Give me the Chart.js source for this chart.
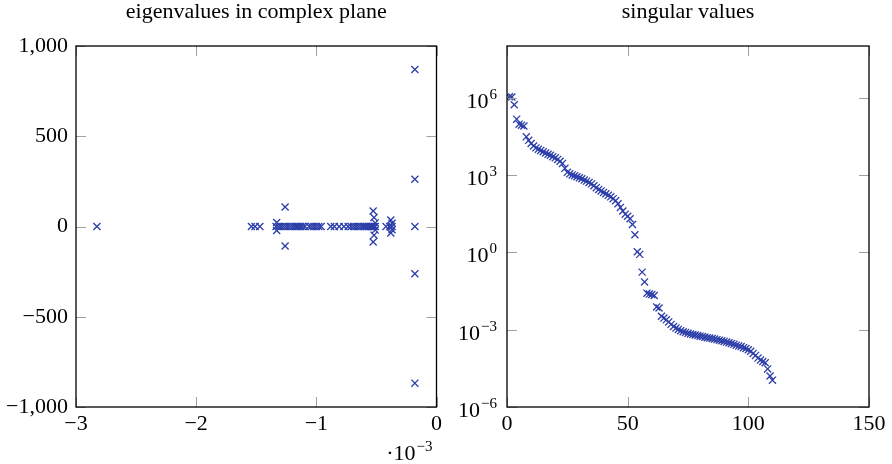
<!DOCTYPE html>
<html>
<head>
<meta charset="utf-8">
<script src="https://cdn.jsdelivr.net/npm/chart.js@4.4.0/dist/chart.umd.min.js"></script>
<style>
  html, body { margin: 0; padding: 0; background: #fff; }
  .box { position: absolute; top: 0; width: 446px; height: 464px; }
</style>
</head>
<body>
<div class="box" style="left:0"><canvas id="eigChart"></canvas></div>
<div class="box" style="left:446px"><canvas id="svdChart"></canvas></div>
<script>
// eigenvalues: real part (in units of 1e-3, as on the axis) and imaginary part
const eigReal = [
  -2.826, -1.54, -1.51, -1.47,
  -1.335, -1.315, -1.295, -1.275, -1.255, -1.235, -1.215, -1.195, -1.175, -1.16,
  -1.145, -1.13, -1.115, -1.095, -1.06, -1.04, -1.02, -1.0, -0.98, -0.96,
  -0.88, -0.85, -0.81, -0.77,
  -0.735, -0.71, -0.69, -0.67, -0.65, -0.63, -0.61, -0.595, -0.58, -0.565,
  -0.55, -0.54, -0.53, -0.52, -0.51,
  -0.42, -0.39, -0.37, -0.18,
  -0.18, -0.18, -0.18, -0.18,
  -1.26, -1.26, -1.33, -1.33,
  -0.527, -0.527, -0.52, -0.52, -0.51, -0.51,
  -0.38, -0.38, -0.37, -0.37
];
const eigImag = [
  0, 0, 0, 0,
  0, 0, 0, 0, 0, 0, 0, 0, 0, 0,
  0, 0, 0, 0, 0, 0, 0, 0, 0, 0,
  0, 0, 0, 0,
  0, 0, 0, 0, 0, 0, 0, 0, 0, 0,
  0, 0, 0, 0, 0,
  0, 0, 0, 0,
  870, -868, 262, -262,
  108, -108, 22, -22,
  86, -86, 50, -48, 20, -20,
  36, -36, 18, -18
];

// singular values, index 1..110
const svValues = [
  1.07e6, 1.05e6, 5.25e5, 1.45e5, 9.3e4, 8.5e4, 7.9e4, 3.0e4, 2.2e4, 1.66e4,
  1.32e4, 1.12e4, 1.0e4, 8.9e3, 7.9e3, 7.1e3, 6.3e3, 5.8e3, 5.1e3, 4.6e3,
  4.0e3, 3.4e3, 2.8e3, 1.8e3, 1.26e3, 1.1e3, 1.0e3, 930, 850, 780,
  710, 630, 575, 510, 450, 380, 320, 275, 240, 210,
  186, 162, 141, 120, 100, 76, 55, 40, 30, 25,
  20, 12, 4.8, 1.05, 0.83, 0.17, 0.071, 0.026, 0.024, 0.023,
  0.021, 7.6e-3, 6.9e-3, 3.3e-3, 2.8e-3, 2.4e-3, 2.0e-3, 1.6e-3, 1.32e-3, 1.15e-3,
  1.02e-3, 9.1e-4, 8.3e-4, 7.8e-4, 7.2e-4, 6.8e-4, 6.5e-4, 6.2e-4, 5.9e-4, 5.6e-4,
  5.4e-4, 5.1e-4, 4.9e-4, 4.7e-4, 4.5e-4, 4.3e-4, 4.1e-4, 3.9e-4, 3.7e-4, 3.5e-4,
  3.3e-4, 3.1e-4, 2.9e-4, 2.7e-4, 2.5e-4, 2.3e-4, 2.2e-4, 2.0e-4, 1.86e-4, 1.66e-4,
  1.45e-4, 1.2e-4, 1.0e-4, 7.9e-5, 6.6e-5, 5.8e-5, 5.2e-5, 3.0e-5, 1.6e-5, 1.1e-5
];
const svIndex = svValues.map((v, i) => i + 1);

// tick positions
const eigXTicks = [-3, -2, -1, 0];
const eigYTicks = [-1000, -500, 0, 500, 1000];
const svXTicks = [0, 50, 100, 150];
const svYExps = [-6, -3, 0, 3, 6];

const markColor = "rgb(44,62,168)";
const serif = '"Liberation Serif", "Times New Roman", serif';
Chart.defaults.font.family = serif;
Chart.defaults.font.size = 22;
Chart.defaults.color = "#000";

const fmtNum = v => {
  const s = Math.abs(v).toLocaleString("en-US");
  return v < 0 ? "\u2212" + s : s;
};

// pgfplots-like box with short inward ticks on all four sides
const frameBox = {
  id: "frameBox",
  afterDatasetsDraw(chart) {
    const { ctx, chartArea: a, scales } = chart;
    ctx.save();
    ctx.strokeStyle = "#a0a0a0";
    ctx.lineWidth = 1;
    ctx.beginPath();
    scales.x.ticks.forEach(t => {
      const px = Math.round(scales.x.getPixelForValue(t.value)) + 0.5;
      ctx.moveTo(px, a.bottom); ctx.lineTo(px, a.bottom - 10);
      ctx.moveTo(px, a.top); ctx.lineTo(px, a.top + 10);
    });
    scales.y.ticks.forEach(t => {
      const py = Math.round(scales.y.getPixelForValue(t.value)) + 0.5;
      ctx.moveTo(a.left, py); ctx.lineTo(a.left + 10, py);
      ctx.moveTo(a.right, py); ctx.lineTo(a.right - 10, py);
    });
    ctx.stroke();
    ctx.strokeStyle = "#000";
    ctx.lineWidth = 1.3;
    ctx.strokeRect(a.left, a.top, a.right - a.left, a.bottom - a.top);
    ctx.restore();
  }
};

// draws "10" with a raised exponent, right edge at x
function drawPow(ctx, x, yBase, exp) {
  const e = exp < 0 ? "\u2212" + Math.abs(exp) : String(exp);
  ctx.font = "15px " + serif;
  const ew = ctx.measureText(e).width;
  ctx.textAlign = "right";
  ctx.textBaseline = "alphabetic";
  ctx.fillText(e, x, yBase - 9);
  ctx.font = "22px " + serif;
  ctx.fillText("10", x - ew - 1, yBase);
}

const eigExtra = {
  id: "eigExtra",
  afterDraw(chart) {
    const { ctx, chartArea: a } = chart;
    ctx.save();
    ctx.fillStyle = "#000";
    ctx.font = "15px " + serif;
    const ew = ctx.measureText("\u22123").width;
    drawPow(ctx, a.right - 4, 460, -3);
    ctx.font = "22px " + serif;
    ctx.textAlign = "right";
    ctx.fillText("\u00b7", a.right - 4 - ew - 1 - ctx.measureText("10").width, 460);
    ctx.restore();
  }
};

const svdLabels = {
  id: "svdLabels",
  afterDraw(chart) {
    const { ctx, chartArea: a, scales } = chart;
    ctx.save();
    ctx.fillStyle = "#000";
    svYExps.forEach(e => {
      const py = scales.y.getPixelForValue(Math.pow(10, e));
      drawPow(ctx, a.left - 10, py + 10, e);
    });
    ctx.restore();
  }
};

const titleOpts = text => ({
  display: true,
  text: text,
  fullSize: false,
  font: { size: 22, weight: "normal", family: serif },
  color: "#000",
  padding: { top: -1, bottom: 20.6 }
});

const noGrid = { display: false, drawTicks: false, tickLength: 0 };

new Chart(document.getElementById("eigChart"), {
  type: "scatter",
  data: {
    datasets: [{
      data: eigReal.map((r, i) => ({ x: r, y: eigImag[i] })),
      pointStyle: "crossRot",
      pointRadius: 5,
      borderWidth: 1.3,
      borderColor: markColor,
      backgroundColor: markColor
    }]
  },
  options: {
    responsive: true,
    maintainAspectRatio: false,
    animation: false,
    events: [],
    layout: { padding: { left: 0, right: 8, top: 0, bottom: 0 } },
    plugins: { legend: { display: false }, tooltip: { enabled: false }, title: titleOpts("eigenvalues in complex plane") },
    scales: {
      x: {
        type: "linear", min: -3, max: 0,
        grid: noGrid, border: { display: false },
        afterBuildTicks: s => { s.ticks = eigXTicks.map(v => ({ value: v })); },
        afterFit: s => { s.height = 57; },
        ticks: { padding: 4, callback: v => fmtNum(v) }
      },
      y: {
        type: "linear", min: -1000, max: 1000,
        grid: noGrid, border: { display: false },
        afterBuildTicks: s => { s.ticks = eigYTicks.map(v => ({ value: v })); },
        afterFit: s => { s.width = 76; },
        ticks: { padding: 8, callback: v => fmtNum(v) }
      }
    }
  },
  plugins: [frameBox, eigExtra]
});

new Chart(document.getElementById("svdChart"), {
  type: "scatter",
  data: {
    datasets: [{
      data: svIndex.map((x, i) => ({ x: x, y: svValues[i] })),
      pointStyle: "crossRot",
      pointRadius: 5,
      borderWidth: 1.3,
      borderColor: markColor,
      backgroundColor: markColor
    }]
  },
  options: {
    responsive: true,
    maintainAspectRatio: false,
    animation: false,
    events: [],
    layout: { padding: { left: 0, right: 23, top: 0, bottom: 0 } },
    plugins: { legend: { display: false }, tooltip: { enabled: false }, title: titleOpts("singular values") },
    scales: {
      x: {
        type: "linear", min: 0, max: 150,
        grid: noGrid, border: { display: false },
        afterBuildTicks: s => { s.ticks = svXTicks.map(v => ({ value: v })); },
        afterFit: s => { s.height = 57; },
        ticks: { padding: 4 }
      },
      y: {
        type: "logarithmic", min: 1e-6, max: 1e8,
        grid: noGrid, border: { display: false },
        afterBuildTicks: s => { s.ticks = svYExps.map(e => ({ value: Math.pow(10, e) })); },
        afterFit: s => { s.width = 61; },
        ticks: { display: false }
      }
    }
  },
  plugins: [frameBox, svdLabels]
});
</script>
</body>
</html>
